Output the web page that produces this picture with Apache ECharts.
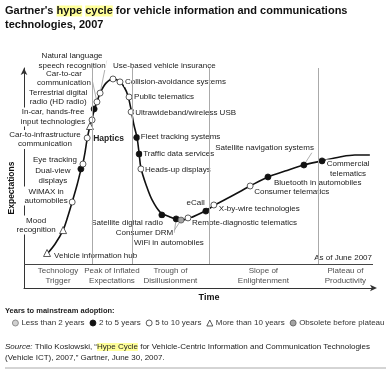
<!DOCTYPE html>
<html><head><meta charset="utf-8">
<script src="https://cdn.jsdelivr.net/npm/echarts@6/dist/echarts.min.js"></script>
<style>html,body{margin:0;padding:0;background:#fff}#c{width:391px;height:370px}</style>
</head><body><div id="c"></div>
<script>
const FONT = '"Liberation Sans", Arial, Helvetica, sans-serif';

// ---- data (time 0-100, expectations 0-100) ----
const phaseBounds = [0, 19.5, 30.9, 53.0, 84.2, 100];
const phaseNames = ['Technology\nTrigger', 'Peak of Inflated\nExpectations', 'Trough of\nDisillusionment', 'Slope of\nEnlightenment', 'Plateau of\nProductivity'];
const categories = ['Less than 2 years', '2 to 5 years', '5 to 10 years', 'More than 10 years', 'Obsolete before plateau'];

const curveX = [6.6, 8.9, 11.2, 12.6, 13.8, 15.2, 16.3, 16.9, 17.5, 18.1, 18.9, 19.5, 20.1, 20.9, 21.8, 23.5, 25.5, 27.2, 28.7, 29.8, 30.7, 31.5, 32.4, 33.0, 33.5, 35.0, 36.7, 39.0, 41.8, 44.7, 47.6, 51.9, 54.7, 59.0, 64.8, 69.9, 74.8, 80.2, 85.4, 90.5, 94.8, 99.1];
const curveY = [5.1, 10.2, 17.3, 24.5, 31.6, 40.3, 48.0, 51.5, 57.1, 63.8, 70.4, 74.0, 78.6, 82.7, 87.2, 92.3, 94.4, 93.4, 90.3, 85.7, 78.6, 70.9, 64.3, 56.1, 49.0, 40.3, 32.7, 26.5, 24.0, 22.4, 23.5, 27.0, 30.1, 34.2, 39.8, 44.4, 47.4, 50.5, 52.6, 54.6, 55.6, 55.6];

const techNames = ['Vehicle information hub', 'Mood\nrecognition', 'WiMAX in\nautomobiles', 'Dual-view\ndisplays', 'Eye tracking', 'Haptics',
  'Car-to-infrastructure\ncommunication', 'In-car, hands-free\ninput technologies', 'Terrestrial digital\nradio (HD radio)', 'Car-to-car\ncommunication',
  'Natural language\nspeech recognition', 'Use-based vehicle insurance', 'Collision-avoidance systems', 'Public telematics', 'Ultrawideband/wireless USB',
  'Fleet tracking systems', 'Traffic data services', 'Heads-up displays', 'Satellite digital radio', 'Consumer DRM', 'WiFi in automobiles',
  'Remote-diagnostic telematics', 'eCall', 'X-by-wire technologies', 'Consumer telematics', 'Bluetooth in automobiles', 'Satellite navigation systems', 'Commercial\ntelematics'];
const techX = [6.6, 11.2, 13.8, 16.3, 16.9, 18.1, 18.9, 19.5, 20.1, 20.9, 21.8, 25.5, 27.5, 30.1, 30.7, 32.3, 33.0, 33.5, 39.5, 43.6, 45.0, 47.0, 52.1, 54.4, 64.8, 69.9, 80.2, 85.4];
const techY = [5.6, 17.3, 31.6, 48.5, 51.0, 64.3, 70.4, 73.5, 79.1, 82.7, 87.2, 94.4, 92.9, 85.2, 77.6, 64.5, 56.1, 48.5, 25.0, 23.0, 22.4, 23.5, 27.0, 30.1, 39.8, 44.4, 50.5, 52.6];
const techCat = [3, 3, 2, 1, 2, 2, 3, 2, 1, 2, 2, 2, 2, 2, 2, 1, 1, 2, 1, 1, 4, 2, 1, 2, 2, 1, 1, 1];

// ---- layout (label placement relative to each point, in px) ----
const labelLayout = [['left',6,3],['center',-27,-5],['center',-26,-6],['center',-28,7],['right',-5,-4],['left',5,1],
  ['center',-45,13.5],['center',-39,-3],['center',-36,-11.5],['center',-33,-23.5],['center',-28,-32.5],['left',-1,-13],
  ['left',4,0],['left',4,0],['left',3,1],['left',3,-1],['left',3,0],['left',3,1],['right',2,8],['right',-2,14],
  ['left',-48,23],['left',3,5],['right',0,-8],['left',4,4],['left',3,6],['left',5,6],['right',11,-17],['center',26,8]];
const leaderItems = [9, 10, 19, 20, 26];
const boldItems = [5];
const catStyles = [
  {symbol:'circle', size:6, color:'#d0d0d0', border:'#7a7a7a'},
  {symbol:'circle', size:6, color:'#111', border:'#111'},
  {symbol:'circle', size:6, color:'#fff', border:'#333'},
  {symbol:'triangle', size:7, color:'#fff', border:'#333'},
  {symbol:'circle', size:6, color:'#a5a5a5', border:'#555'}
];

const yMin = -12.25;

const catSeries = categories.map((cat, c) => ({
  name: cat, type: 'scatter', z: 4,
  symbol: catStyles[c].symbol, symbolSize: catStyles[c].size,
  itemStyle: {color: catStyles[c].color, borderColor: catStyles[c].border, borderWidth: 0.8, opacity: 1},
  label: {show: true, position: 'inside', verticalAlign: 'middle', formatter: '{b}', fontFamily: FONT, fontSize: 8,
    lineHeight: 9.5, color: '#222', backgroundColor: '#fff', padding: [0, 1]},
  labelLine: {show: false, lineStyle: {color: '#999', width: 0.8}},
  emphasis: {disabled: true},
  data: techNames.map((n, i) => i).filter(i => techCat[i] === c).map(i => {
    const item = {
      name: techNames[i], value: [techX[i], techY[i]],
      label: {align: labelLayout[i][0], offset: [labelLayout[i][1], labelLayout[i][2]]}
    };
    if (boldItems.includes(i)) { item.label.fontWeight = 'bold'; item.label.fontSize = 8.5; }
    if (leaderItems.includes(i)) { item.labelLine = {show: true}; }
    return item;
  })
}));

const option = {
  animation: false,
  title: {
    left: 5, top: 4, padding: 0,
    text: "{b|Gartner's }{h|hype}{b| }{h|cycle}{b| for vehicle information and communications}\n{b|technologies, 2007}",
    textStyle: {rich: {
      b: {fontFamily: FONT, fontSize: 11, fontWeight: 'bold', color: '#111', lineHeight: 14},
      h: {fontFamily: FONT, fontSize: 11, fontWeight: 'bold', color: '#111', lineHeight: 14, backgroundColor: '#ffff99'}
    }}
  },
  grid: {left: 24, top: 68, width: 349, height: 220, containLabel: false},
  xAxis: {type: 'value', min: 0, max: 100,
    axisLine: {show: true, onZero: false, lineStyle: {color: '#333', width: 1}, symbol: ['none', 'arrow'], symbolSize: [5, 7], symbolOffset: [0, 4]},
    axisTick: {show: false}, axisLabel: {show: false}, splitLine: {show: false}},
  yAxis: {type: 'value', min: yMin, max: 100,
    axisLine: {show: true, onZero: false, lineStyle: {color: '#333', width: 1}, symbol: ['none', 'arrow'], symbolSize: [5, 7]},
    axisTick: {show: false}, axisLabel: {show: false}, splitLine: {show: false}},
  legend: {
    data: categories, left: 12, top: 319, width: 379, itemWidth: 6, itemHeight: 6, itemGap: 5, padding: 0, selectedMode: false,
    itemStyle: {borderWidth: 0.8},
    textStyle: {fontFamily: FONT, fontSize: 8, color: '#333', padding: [0, 0, 0, -2]}
  },
  series: [
    {
      name: 'phases', type: 'scatter', z: 1, symbolSize: 1, itemStyle: {color: 'transparent'},
      silent: true,
      label: {show: true, position: 'inside', formatter: '{b}', fontFamily: FONT, fontSize: 8, lineHeight: 9.5, color: '#222', align: 'center', verticalAlign: 'middle'},
      data: phaseNames.map((n, i) => ({name: n, value: [(phaseBounds[i] + phaseBounds[i + 1]) / 2, yMin / 2]})),
      markLine: {
        silent: true, symbol: ['none', 'none'], label: {show: false}, animation: false,
        lineStyle: {color: '#aaa', width: 1, type: 'solid'},
        emphasis: {disabled: true},
        data: phaseBounds.slice(1, -1).map(b => [{coord: [b, 0]}, {coord: [b, 100]}]).concat([
          [{coord: [0, 0], lineStyle: {color: '#444', width: 1, type: 'solid'}}, {coord: [100, 0]}]
        ])
      }
    },
    {
      name: 'curve', type: 'line', z: 2, silent: true, symbol: 'none', smooth: 0.35,
      lineStyle: {color: '#111', width: 1.6},
      data: curveX.map((x, i) => [x, curveY[i]])
    }
  ].concat(catSeries),
  graphic: [
    {type: 'text', x: 12, y: 188, rotation: Math.PI / 2,
      style: {text: 'Expectations', fontFamily: FONT, fontSize: 8.5, fontWeight: 'bold', fill: '#111', align: 'center', verticalAlign: 'middle', textAlign: 'center', textVerticalAlign: 'middle'}},
    {type: 'text', x: 209, y: 298,
      style: {text: 'Time', fontFamily: FONT, fontSize: 9, fontWeight: 'bold', fill: '#111', align: 'center', verticalAlign: 'middle', textAlign: 'center', textVerticalAlign: 'middle'}},
    {type: 'text', x: 372, y: 258,
      style: {text: 'As of June 2007', fontFamily: FONT, fontSize: 8, fill: '#222', align: 'right', verticalAlign: 'middle', textAlign: 'right', textVerticalAlign: 'middle'}},
    {type: 'text', x: 5, y: 311,
      style: {text: 'Years to mainstream adoption:', fontFamily: FONT, fontSize: 7.5, fontWeight: 'bold', fill: '#222', align: 'left', verticalAlign: 'middle', textAlign: 'left', textVerticalAlign: 'middle'}},
    {type: 'text', x: 5, y: 341.5,
      style: {text: '{i|Source:} Thilo Koslowski, \u201c{h|Hype Cycle} for Vehicle-Centric Information and Communication Technologies\n(Vehicle ICT), 2007,\u201d Gartner, June 30, 2007.',
        fontFamily: FONT, fontSize: 8, fill: '#222', lineHeight: 11, align: 'left', verticalAlign: 'top', textAlign: 'left', textVerticalAlign: 'top',
        rich: {
          i: {fontFamily: FONT, fontSize: 8, fontStyle: 'italic', fill: '#222', lineHeight: 11},
          h: {fontFamily: FONT, fontSize: 8, fill: '#222', lineHeight: 11, backgroundColor: '#ffff99'}
        }}},
    {type: 'line', shape: {x1: 5, y1: 368, x2: 386, y2: 368}, style: {stroke: '#aaa', lineWidth: 1}}
  ]
};

const chart = echarts.init(document.getElementById('c'));
chart.setOption(option);
</script>
</body></html>
